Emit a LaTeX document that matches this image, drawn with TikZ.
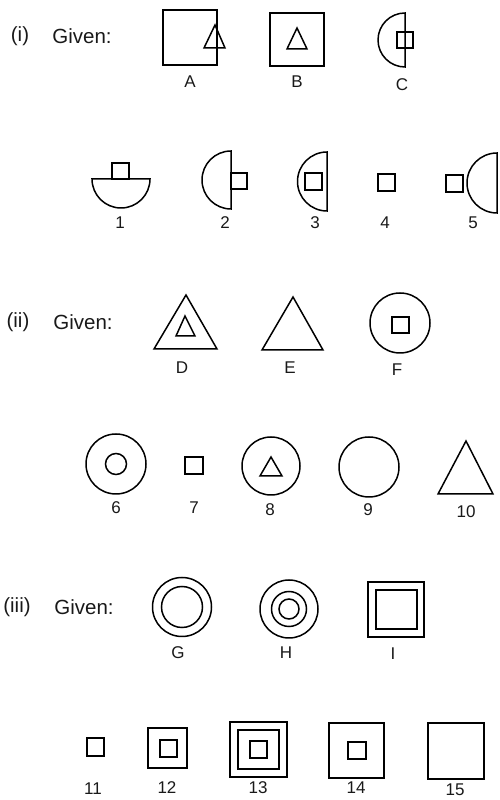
\documentclass[tikz,border=0pt]{standalone}
\usepackage{fontspec}
\setmainfont{Liberation Sans}
\begin{document}
\begin{tikzpicture}[x=1pt,y=1pt,
  fig/.style={draw=black,line width=1.5pt,line join=miter},
  lbl/.style={inner sep=0pt,font=\fontsize{17}{19}\selectfont,text=black!90},
  head/.style={inner sep=0pt,font=\fontsize{20.5}{23}\selectfont,text=black!90}]
\useasboundingbox (0,0) rectangle (500,800);
% ---- row (i) given
\node[head] (hi) at (20,764) {(i)};
\node[head] (gi) at (82,764) {Given:};
\draw[fig] (163,735) rectangle (217,790);
\draw[fig] (215,775) -- (225,752) -- (204,752) -- cycle;
\node[lbl] (lA) at (190,718) {A};
\draw[fig] (270,734) rectangle (324,787);
\draw[fig] (297,772) -- (307,751) -- (287,751) -- cycle;
\node[lbl] (lB) at (297,718) {B};
\draw[fig] (405,787) arc[start angle=90,end angle=270,radius=27] -- cycle;
\draw[fig] (397,752) rectangle (413,768);
\node[lbl] (lC) at (402,715) {C};
% ---- row (i) answers
\draw[fig] (92,621) arc[start angle=180,end angle=360,radius=29] -- cycle;
\draw[fig] (112,621) rectangle (129,637);
\node[lbl] (l1) at (120,577) {1};
\draw[fig] (231,649) arc[start angle=90,end angle=270,radius=29] -- cycle;
\draw[fig] (231,611) rectangle (247,627);
\node[lbl] (l2) at (225,577) {2};
\draw[fig] (327,648) arc[start angle=90,end angle=270,radius=29.5] -- cycle;
\draw[fig] (305,610) rectangle (322,627);
\node[lbl] (l3) at (315,577) {3};
\draw[fig] (378,609) rectangle (395,626);
\node[lbl] (l4) at (385,577) {4};
\draw[fig] (446,608) rectangle (463,625);
\draw[fig] (497,647) arc[start angle=90,end angle=270,radius=30] -- cycle;
\node[lbl] (l5) at (473,577) {5};
% ---- row (ii) given
\node[head] (hii) at (18,478) {(ii)};
\node[head] (gii) at (83,478) {Given:};
\draw[fig] (186,505) -- (217,451) -- (154,451) -- cycle;
\draw[fig] (185,484) -- (195,464) -- (176,464) -- cycle;
\node[lbl] (lD) at (182,432) {D};
\draw[fig] (293,503) -- (323,450) -- (262,450) -- cycle;
\node[lbl] (lE) at (290,432) {E};
\draw[fig] (400,477) circle[radius=30];
\draw[fig] (392,467) rectangle (409,483);
\node[lbl] (lF) at (397,430) {F};
% ---- row (ii) answers
\draw[fig] (116,336) circle[radius=30];
\draw[fig] (116,336) circle[radius=10.5];
\node[lbl] (l6) at (116,292) {6};
\draw[fig] (185,326) rectangle (203,343);
\node[lbl] (l7) at (194,292) {7};
\draw[fig] (271,334) circle[radius=29];
\draw[fig] (271,343) -- (282,324) -- (260,324) -- cycle;
\node[lbl] (l8) at (270,290) {8};
\draw[fig] (369,333) circle[radius=30];
\node[lbl] (l9) at (368,290) {9};
\draw[fig] (466,359) -- (493,306) -- (438,306) -- cycle;
\node[lbl] (l10) at (466,288) {10};
% ---- row (iii) given
\node[head] (hiii) at (17,193) {(iii)};
\node[head] (giii) at (84,193) {Given:};
\draw[fig] (182,193) circle[radius=29.5];
\draw[fig] (182,193) circle[radius=20.5];
\node[lbl] (lG) at (178,147) {G};
\draw[fig] (289,191) circle[radius=29];
\draw[fig] (289,191) circle[radius=17.5];
\draw[fig] (289,191) circle[radius=10];
\node[lbl] (lH) at (286,147) {H};
\draw[fig] (368,163) rectangle (424,218);
\draw[fig] (376,171) rectangle (417,210);
\node[lbl] (lI) at (393,146) {I};
% ---- row (iii) answers
\draw[fig] (87,44) rectangle (104,62);
\node[lbl] (l11) at (93,11) {11};
\draw[fig] (148,32) rectangle (187,72);
\draw[fig] (160,43) rectangle (177,60);
\node[lbl] (l12) at (167,12) {12};
\draw[fig] (230,23) rectangle (287,78);
\draw[fig] (238,31) rectangle (279,70);
\draw[fig] (250,42) rectangle (267,59);
\node[lbl] (l13) at (258,12) {13};
\draw[fig] (329,22) rectangle (384,77);
\draw[fig] (348,41) rectangle (366,58);
\node[lbl] (l14) at (356,12) {14};
\draw[fig] (428,21) rectangle (484,77);
\node[lbl] (l15) at (455,10) {15};
\end{tikzpicture}
\end{document}
